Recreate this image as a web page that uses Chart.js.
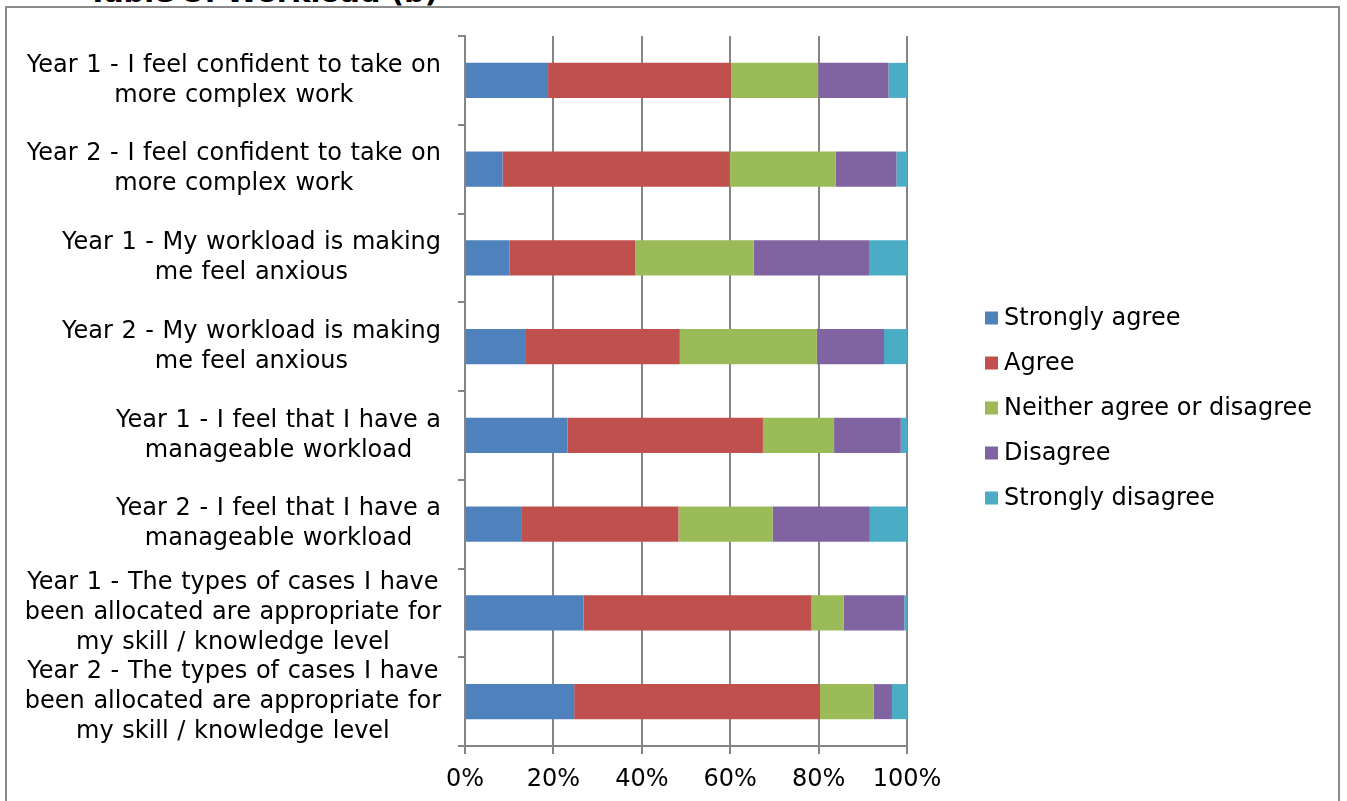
<!DOCTYPE html>
<html>
<head>
<meta charset="utf-8">
<script src="https://cdn.jsdelivr.net/npm/chart.js@4.4.0/dist/chart.umd.min.js"></script>
<style>
  body { margin: 0; background: #fff; overflow: hidden; font-family: "DejaVu Sans", Verdana, sans-serif; }
  #frame { position: absolute; left: 5px; top: 6px; width: 1335px; height: 900px; border: 2px solid #8c8c8c; box-sizing: border-box; }
  #title { position: absolute; left: 88px; top: -22px; font-weight: bold; font-size: 29px; line-height: 29px; white-space: nowrap; }
  #chart { position: absolute; left: 0; top: 0; }
</style>
</head>
<body>
<div id="title">Table 5: Workload (b)</div>
<div id="frame"></div>
<canvas id="chart" width="1347" height="801"></canvas>
<script>
const categories = [
  ['Year 1 - I feel confident to take on', 'more complex work'],
  ['Year 2 - I feel confident to take on', 'more complex work'],
  ['Year 1 - My workload is making', 'me feel anxious'],
  ['Year 2 - My workload is making', 'me feel anxious'],
  ['Year 1 - I feel that I have a', 'manageable workload'],
  ['Year 2 - I feel that I have a', 'manageable workload'],
  ['Year 1 - The types of cases I have', 'been allocated are appropriate for', 'my skill / knowledge level'],
  ['Year 2 - The types of cases I have', 'been allocated are appropriate for', 'my skill / knowledge level']
];

const seriesNames = ['Strongly agree', 'Agree', 'Neither agree or disagree', 'Disagree', 'Strongly disagree'];
const seriesColors = ['#4F81BD', '#C0504D', '#9BBB59', '#8064A2', '#4BACC6'];

// percentages per statement
const stronglyAgree = [18.8, 8.5, 10.1, 13.6, 23.2, 12.7, 26.8, 24.7];
const agree = [41.4, 51.4, 28.4, 35.0, 44.2, 35.6, 51.6, 55.6];
const neither = [19.7, 24.0, 26.8, 31.0, 16.1, 21.3, 7.3, 12.2];
const disagree = [15.9, 13.7, 26.1, 15.2, 15.1, 22.0, 13.7, 4.1];
const stronglyDisagree = [4.2, 2.4, 8.6, 5.2, 1.4, 8.4, 0.6, 3.4];

const xTickLabels = ['0%', '20%', '40%', '60%', '80%', '100%'];

const seriesValues = [stronglyAgree, agree, neither, disagree, stronglyDisagree];
const axisGray = '#858585';
const fontFamily = '"DejaVu Sans", Verdana, sans-serif';

// statement labels: each block right-aligned to the axis, lines centred within it
const statementLabels = {
  id: 'statementLabels',
  afterDraw(chart) {
    const ctx = chart.ctx;
    const yScale = chart.scales.y;
    const right = chart.chartArea.left - 24;
    ctx.save();
    ctx.font = '24px ' + fontFamily;
    ctx.wordSpacing = '1px';
    ctx.fillStyle = '#000';
    ctx.textAlign = 'center';
    ctx.textBaseline = 'middle';
    categories.forEach((lines, i) => {
      const widest = Math.max(...lines.map(l => ctx.measureText(l).width));
      const cx = right - widest / 2;
      const cy = yScale.getPixelForValue(i);
      lines.forEach((line, j) => {
        ctx.fillText(line, cx, cy + (j - (lines.length - 1) / 2) * 30);
      });
    });
    ctx.restore();
  }
};

// legend to the right of the plot, squares + labels
const sideLegend = {
  id: 'sideLegend',
  afterDraw(chart) {
    const { ctx, chartArea } = chart;
    const x = chartArea.right + 78;
    ctx.save();
    ctx.font = '24px ' + fontFamily;
    ctx.textAlign = 'left';
    ctx.textBaseline = 'middle';
    chart.data.datasets.forEach((ds, i) => {
      const y = 318.5 + i * 45;
      ctx.fillStyle = ds.backgroundColor;
      ctx.fillRect(x, y - 7, 13, 13);
      ctx.fillStyle = '#000';
      ctx.fillText(ds.label, x + 19, y);
    });
    ctx.restore();
  }
};

const datasets = seriesNames.map((name, i) => ({
  label: name,
  data: seriesValues[i],
  backgroundColor: seriesColors[i],
  borderWidth: 0,
  barPercentage: 0.395,
  categoryPercentage: 1
}));

new Chart(document.getElementById('chart'), {
  type: 'bar',
  data: { labels: categories.map(l => l.join(' ')), datasets: datasets },
  plugins: [statementLabels, sideLegend],
  options: {
    indexAxis: 'y',
    responsive: false,
    animation: false,
    devicePixelRatio: 1,
    layout: { padding: { top: 36, right: 440, bottom: 0, left: 0 } },
    plugins: {
      legend: { display: false },
      tooltip: { enabled: false }
    },
    scales: {
      x: {
        stacked: true,
        min: 0,
        max: 100,
        afterFit(scale) { scale.height = 55; },
        ticks: {
          stepSize: 20,
          color: '#000',
          padding: 11,
          font: { family: fontFamily, size: 24 },
          callback: (v, i) => xTickLabels[i]
        },
        grid: { color: axisGray, lineWidth: 2, tickLength: 8, tickColor: axisGray },
        border: { color: axisGray, width: 2 }
      },
      y: {
        stacked: true,
        afterFit(scale) { scale.width = 465; },
        ticks: { display: false },
        grid: { offset: true, drawOnChartArea: false, tickLength: 7, color: axisGray, lineWidth: 2 },
        border: { color: axisGray, width: 2 }
      }
    }
  }
});
</script>
</body>
</html>
